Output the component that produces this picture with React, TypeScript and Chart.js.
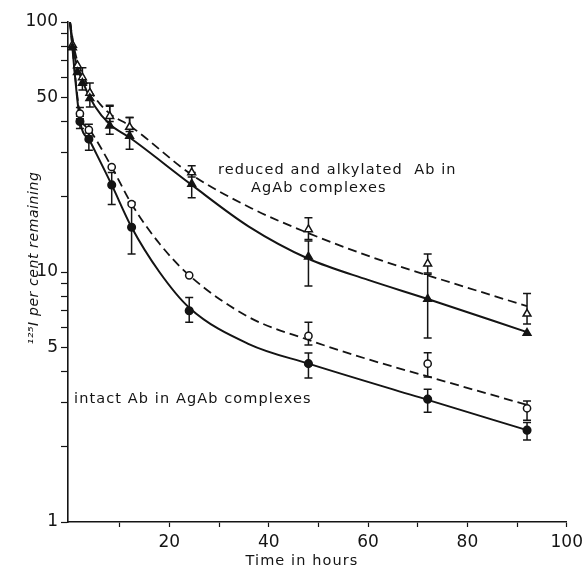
import React, { useEffect, useRef } from 'react';
import { Chart, registerables } from 'chart.js';

Chart.register(...registerables);

// Reduced and alkylated Ab (triangles) – measured points
const triTimes = [0.5, 1.5, 2.5, 4, 8, 12, 24.5, 48, 72, 92];
const filledTriValues = [79, 63, 57, 49.5, 38.5, 35, 22.5, 11.5, 7.8, 5.7];
const filledTriLow = [null, null, 53.5, 45.7, 35.6, 31, 19.8, 8.8, 5.45, null];
const filledTriHigh = [null, null, 65.6, 57, 46, 41.5, 25, 13.3, 9.8, null];
const openTriValues = [81, 67, 60, 52, 42, 38, 25, 14.8, 10.8, 6.8];
const openTriLow = [null, null, null, null, 40, 36.5, 24, 13.5, 9.9, 6.2];
const openTriHigh = [null, null, null, null, 46.4, 41.5, 26.6, 16.5, 11.8, 8.2];

// Intact Ab (circles) – measured points
const circTimes = [2, 3.8, 8.4, 12.4, 24, 48, 72, 92];
const filledCircValues = [40, 34, 22.3, 15.1, 7.0, 4.3, 3.1, 2.33];
const filledCircLow = [37.5, 30.7, 18.6, 11.8, 6.3, 3.77, 2.75, 2.13];
const filledCircHigh = [42, 36, 25, 19, 7.9, 4.74, 3.4, 2.5];
const openCircValues = [43, 37, 26.3, 18.7, 9.7, 5.55, 4.3, 2.85];
const openCircLow = [41, 35, null, null, null, 5.1, 3.8, 2.55];
const openCircHigh = [45.5, 39, null, null, null, 6.3, 4.75, 3.05];

// Fitted curves
const solidTriCurveT = [0, 1, 2.5, 5, 8, 12, 24.5, 36, 48, 60, 72, 92];
const solidTriCurveV = [100, 72, 58, 46, 39, 34.5, 22.3, 15.2, 11.3, 9.3, 7.8, 5.75];
const dashTriCurveT = [0, 1, 2.5, 5, 8, 12, 24.5, 36.5, 48, 62.8, 72, 92];
const dashTriCurveV = [100, 76, 62, 50, 43, 38.5, 24.5, 18, 14.3, 11.1, 9.7, 7.3];
const solidCircCurveT = [0, 2, 4, 8.4, 12.4, 18, 24, 36, 48, 72, 92];
const solidCircCurveV = [100, 40.5, 33.5, 22.3, 15.1, 10, 7.2, 5.15, 4.3, 3.08, 2.33];
const dashCircCurveT = [0, 2, 4, 8.4, 12.4, 18, 24, 36, 48, 59.6, 72, 92];
const dashCircCurveV = [100, 43, 37, 26.3, 18.7, 13, 9.7, 6.6, 5.35, 4.5, 3.82, 2.94];

const xTickLabels = [20, 40, 60, 80, 100];
const yTickLabels = [1, 5, 10, 50, 100];

const INK = '#141414';
const FONT = "'DejaVu Sans', sans-serif";

function pts(t: number[], v: number[]) {
  return t.map((x, i) => ({ x, y: v[i] }));
}
function errs(lo: (number | null)[], hi: (number | null)[]) {
  return lo.map((l, i) => (l == null || hi[i] == null ? null : [l, hi[i] as number]));
}

export default function App() {
  const ref = useRef<HTMLCanvasElement | null>(null);

  useEffect(() => {
    if (!ref.current) return;

    const errorSets: Record<number, (number[] | null)[]> = {
      4: errs(filledTriLow, filledTriHigh),
      5: errs(openTriLow, openTriHigh),
      6: errs(filledCircLow, filledCircHigh),
      7: errs(openCircLow, openCircHigh),
    };

    const errorBarPlugin = {
      id: 'errorBars',
      beforeDatasetsDraw(chart: any) {
        const ctx = chart.ctx;
        const xs = chart.scales.x;
        const ys = chart.scales.y;
        ctx.save();
        ctx.strokeStyle = INK;
        ctx.lineWidth = 1.5;
        Object.keys(errorSets).forEach((k) => {
          const i = Number(k);
          const ds = chart.data.datasets[i];
          errorSets[i].forEach((e, j) => {
            if (!e) return;
            const p = ds.data[j];
            const x = xs.getPixelForValue(p.x);
            const y1 = ys.getPixelForValue(e[0]);
            const y2 = ys.getPixelForValue(e[1]);
            ctx.beginPath();
            ctx.moveTo(x, y1);
            ctx.lineTo(x, y2);
            ctx.moveTo(x - 4, y1);
            ctx.lineTo(x + 4, y1);
            ctx.moveTo(x - 4, y2);
            ctx.lineTo(x + 4, y2);
            ctx.stroke();
          });
        });
        ctx.restore();
      },
    };

    const textPlugin = {
      id: 'texts',
      afterDraw(chart: any) {
        const ctx = chart.ctx;
        ctx.save();
        ctx.fillStyle = INK;
        ctx.font = `14.5px ${FONT}`;
        (ctx as any).letterSpacing = '1.1px';
        ctx.textAlign = 'left';
        ctx.textBaseline = 'alphabetic';
        ctx.fillText('reduced and alkylated  Ab in', 218, 174);
        ctx.fillText('AgAb complexes', 251, 192);
        ctx.fillText('intact Ab in AgAb complexes', 74, 403);
        ctx.textAlign = 'center';
        ctx.fillText('Time in hours', 302, 565);
        // y-axis title
        ctx.translate(34, 258);
        ctx.rotate(-Math.PI / 2);
        ctx.font = `italic 14px ${FONT}`;
        (ctx as any).letterSpacing = '0.6px';
        ctx.textBaseline = 'middle';
        ctx.fillText('\u00B9\u00B2\u2075I per cent remaining', 0, 0);
        ctx.restore();
      },
    };

    const curveDs = (data: any[], dashed: boolean) => ({
      type: 'line' as const,
      data,
      borderColor: INK,
      borderWidth: dashed ? 1.8 : 2,
      borderDash: dashed ? [9, 5] : [],
      pointRadius: 0,
      fill: false,
      cubicInterpolationMode: 'monotone' as const,
      order: 2,
    });
    const markerDs = (data: any[], style: string, filled: boolean, r: number) => ({
      type: 'line' as const,
      data,
      showLine: false,
      pointStyle: style,
      pointRadius: r,
      pointBackgroundColor: filled ? INK : '#ffffff',
      pointBorderColor: INK,
      pointBorderWidth: 1.5,
      clip: false,
      order: 0,
    });

    const chart = new Chart(ref.current, {
      type: 'line',
      data: {
        datasets: [
          curveDs(pts(solidTriCurveT, solidTriCurveV), false),
          curveDs(pts(dashTriCurveT, dashTriCurveV), true),
          curveDs(pts(solidCircCurveT, solidCircCurveV), false),
          curveDs(pts(dashCircCurveT, dashCircCurveV), true),
          markerDs(pts(triTimes, filledTriValues), 'triangle', true, 4.5),
          markerDs(pts(triTimes, openTriValues), 'triangle', false, 4.5),
          markerDs(pts(circTimes, filledCircValues), 'circle', true, 3.8),
          markerDs(pts(circTimes, openCircValues), 'circle', false, 3.6),
        ] as any,
      },
      options: {
        animation: false,
        responsive: false,
        events: [],
        layout: { padding: { top: 22, right: 20, left: 0, bottom: 0 } },
        plugins: { legend: { display: false }, tooltip: { enabled: false } },
        scales: {
          x: {
            type: 'linear',
            min: -0.4,
            max: 100,
            afterBuildTicks: (s: any) => {
              const t = [];
              for (let v = 10; v <= 100; v += 10) t.push({ value: v });
              s.ticks = t;
            },
            afterFit: (s: any) => {
              s.height = 47;
            },
            ticks: {
              autoSkip: false,
              maxRotation: 0,
              padding: 5,
              color: INK,
              font: { family: FONT, size: 17 },
              callback: (v: any) => (xTickLabels.includes(Number(v)) ? String(v) : ''),
            },
            grid: { drawOnChartArea: false, drawTicks: true, tickLength: 5, color: INK, tickWidth: 1.2 },
            border: { display: true, color: INK, width: 1.6 },
          },
          y: {
            type: 'logarithmic',
            min: 1,
            max: 100,
            afterBuildTicks: (s: any) => {
              const t = [];
              for (let d = 1; d < 100; d *= 10) for (let m = 1; m < 10; m++) t.push({ value: m * d });
              t.push({ value: 100 });
              s.ticks = t;
            },
            afterFit: (s: any) => {
              s.width = 68;
            },
            ticks: {
              autoSkip: false,
              padding: 3,
              color: INK,
              font: { family: FONT, size: 17 },
              callback: (v: any) => (yTickLabels.includes(Number(v)) ? String(v) : ''),
            },
            grid: { drawOnChartArea: false, drawTicks: true, tickLength: 7, color: INK, tickWidth: 1.2 },
            border: { display: true, color: INK, width: 1.6 },
          },
        },
      },
      plugins: [errorBarPlugin, textPlugin],
    } as any);

    return () => chart.destroy();
  }, []);

  return (
    <div style={{ position: 'absolute', left: 0, top: 0, width: 588, height: 569, background: '#fff' }}>
      <canvas ref={ref} width={588} height={569} style={{ display: 'block' }} />
    </div>
  );
}
